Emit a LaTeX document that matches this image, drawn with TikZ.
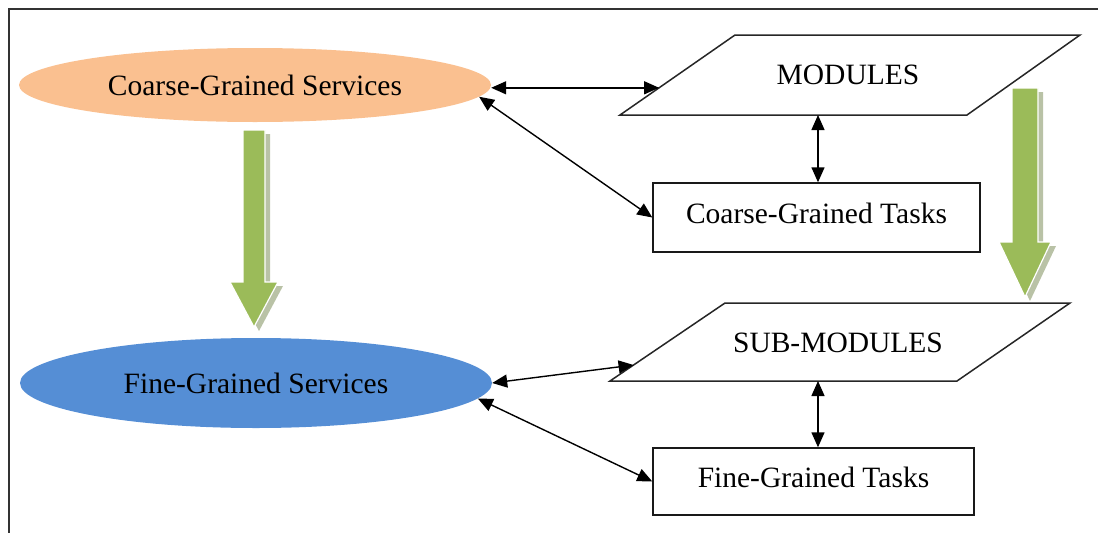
\documentclass[tikz,border=0pt]{standalone}
\usepackage{fontspec}
\setmainfont{Liberation Serif}
\usetikzlibrary{shapes.geometric,arrows.meta,calc}
\definecolor{peach}{HTML}{FAC090}
\definecolor{skyblue}{HTML}{558ED5}
\definecolor{leaf}{HTML}{9BBB59}
\definecolor{leafshade}{HTML}{B9C2A6}
\begin{document}
\begin{tikzpicture}[x=1pt,y=-1pt,
  lbl/.style={font=\fontsize{29.5}{34}\selectfont},
  svc/.style={ellipse, inner sep=0pt, lbl, minimum width=472},
  taskbox/.style={draw=black!90, line width=1.4pt, rectangle, lbl, inner sep=0pt, text depth=9pt},
  plg/.style={draw=black!85, line width=1.5pt, line join=miter},
  link/.style={line width=1.4pt, {Triangle[length=15pt,width=13pt]}-{Triangle[length=15pt,width=13pt]}},
  fatshade/.style={fill=leafshade},
  fat/.style={fill=leaf, draw=white, line width=1.2pt},
]
\useasboundingbox (0,0) rectangle (1098,533);

% outer frame (top and left edges)
\draw[line width=1.6pt, black!80] (1098,9) -- (9,9) -- (9,533);

% services
\node[svc, fill=peach, minimum height=74] (cgs) at (255,85) {Coarse-Grained Services};
\node[svc, fill=skyblue, minimum height=90] (fgs) at (256,383) {Fine-Grained Services};

% MODULES parallelogram
\coordinate (m1) at (620,115);
\coordinate (m2) at (735,35);
\coordinate (m3) at (1080,35);
\coordinate (m4) at (967,115);
\draw[plg] (m1) -- (m2) -- (m3) -- (m4) -- cycle;
\node[lbl] (mod) at (848,75) {MODULES};
\coordinate (modL) at ($(m1)!0.34!(m2)$);
\coordinate (modB) at (818,115);

% SUB-MODULES parallelogram
\coordinate (s1) at (610,381);
\coordinate (s2) at (725,303);
\coordinate (s3) at (1070,303);
\coordinate (s4) at (957,381);
\draw[plg] (s1) -- (s2) -- (s3) -- (s4) -- cycle;
\node[lbl] (sub) at (838,343) {SUB-MODULES};
\coordinate (subL) at ($(s1)!0.205!(s2)$);
\coordinate (subB) at (818,381);

% task boxes
\node[taskbox, minimum width=327, minimum height=69] (ct) at (816.5,217.5) {Coarse-Grained Tasks};
\node[taskbox, minimum width=321, minimum height=67] (ft) at (813.5,481.5) {Fine-Grained Tasks};

% links
\draw[link] (modL -| cgs.east) -- (modL);
\draw[link] (cgs.-3.5) -- (ct.west);
\draw[link] (modB) -- (modB |- ct.north);
\draw[link] (fgs.east) -- (subL);
\draw[link] (fgs.-4) -- (ft.west);
\draw[link] (subB) -- (subB |- ft.north);

% refinement arrows
\begin{scope}[shift={(5,4)}]
  \fill[fatshade] (243,130) -- (265,130) -- (265,282) -- (278,282) -- (254,327) -- (230,282) -- (243,282) -- cycle;
  \fill[fatshade] (1012,88) -- (1038,88) -- (1038,242) -- (1051,242) -- (1025,297) -- (999,242) -- (1012,242) -- cycle;
\end{scope}
\filldraw[fat] (243,130) -- (265,130) -- (265,282) -- (278,282) -- (254,327) -- (230,282) -- (243,282) -- cycle;
\filldraw[fat] (1012,88) -- (1038,88) -- (1038,242) -- (1051,242) -- (1025,297) -- (999,242) -- (1012,242) -- cycle;
\end{tikzpicture}
\end{document}
